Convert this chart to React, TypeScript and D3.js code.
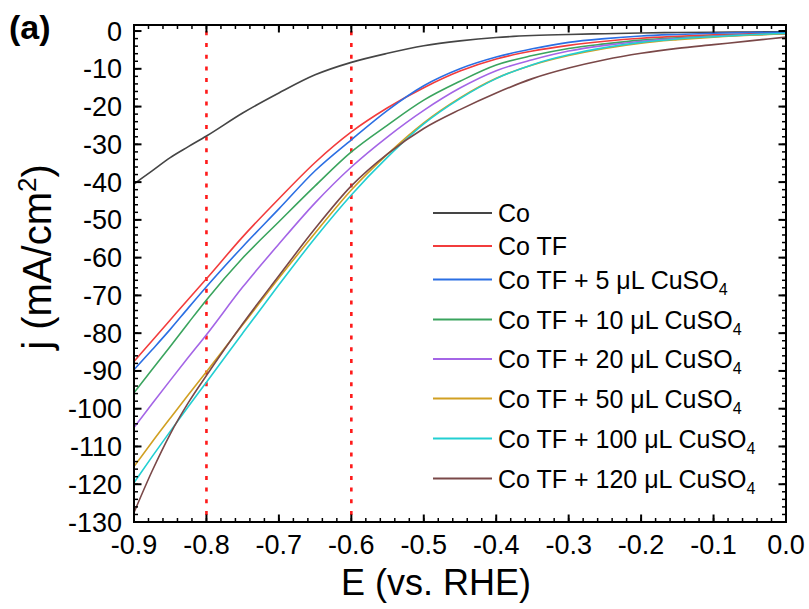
import React from "react";
import * as d3 from "d3";

const E = [-0.9, -0.875, -0.85, -0.825, -0.8, -0.75, -0.7, -0.65, -0.6, -0.55, -0.5, -0.45, -0.4, -0.35, -0.3, -0.25, -0.2, -0.15, -0.1, -0.05, 0];

const jCo = [-40.5, -37.0, -33.5, -30.6, -27.8, -21.7, -16.4, -11.6, -8.3, -5.9, -3.9, -2.6, -1.7, -1.2, -0.9, -0.7, -0.5, -0.4, -0.3, -0.25, -0.2];
const jCoTF = [-87.5, -82.0, -76.5, -71.0, -65.6, -54.5, -44.4, -34.8, -26.7, -20.3, -15.0, -10.6, -7.4, -5.3, -3.8, -2.7, -1.9, -1.4, -1.0, -0.7, -0.5];
const j5 = [-89.7, -84.4, -79.0, -73.3, -67.7, -57.1, -47.1, -37.0, -28.8, -21.0, -14.5, -10.0, -6.9, -4.7, -3.0, -2.0, -1.3, -0.9, -0.6, -0.4, -0.3];
const j10 = [-95.8, -89.6, -83.5, -77.3, -71.2, -60.1, -50.5, -41.0, -32.0, -24.9, -18.3, -13.3, -9.0, -6.5, -4.6, -3.4, -2.4, -1.8, -1.3, -1.0, -0.7];
const j20 = [-105.0, -98.7, -92.5, -86.4, -80.4, -67.8, -56.4, -45.5, -36.0, -28.0, -21.0, -15.1, -10.5, -7.6, -5.3, -3.8, -2.7, -2.0, -1.4, -1.0, -0.7];
const j50 = [-115.3, -108.8, -102.5, -96.3, -90.2, -77.8, -65.4, -53.5, -42.1, -32.6, -24.3, -17.7, -12.5, -9.0, -6.5, -4.6, -3.2, -2.3, -1.6, -1.1, -0.7];
const j100 = [-119.6, -112.7, -106.0, -99.4, -93.0, -80.0, -67.2, -54.8, -43.4, -33.4, -24.6, -17.9, -12.6, -8.9, -6.3, -4.4, -3.0, -2.1, -1.5, -1.0, -0.6];
const j120 = [-127.5, -116.5, -106.7, -98.4, -91.2, -77.5, -64.8, -52.3, -41.0, -32.5, -25.8, -20.8, -16.4, -12.6, -9.8, -7.6, -5.9, -4.6, -3.6, -2.6, -1.6];

const seriesNames = ["Co", "Co TF", "Co TF + 5 μL CuSO", "Co TF + 10 μL CuSO", "Co TF + 20 μL CuSO", "Co TF + 50 μL CuSO", "Co TF + 100 μL CuSO", "Co TF + 120 μL CuSO"];
const seriesSub = ["", "", "4", "4", "4", "4", "4", "4"];
const seriesValues = [jCo, jCoTF, j5, j10, j20, j50, j100, j120];
const seriesColors = ["#454545", "#f23c3c", "#2b6fe3", "#3aa45e", "#a465e6", "#d1a022", "#22cfd2", "#7a4848"];

const xTicks = [-0.9, -0.8, -0.7, -0.6, -0.5, -0.4, -0.3, -0.2, -0.1, 0];
const xTickLabels = ["-0.9", "-0.8", "-0.7", "-0.6", "-0.5", "-0.4", "-0.3", "-0.2", "-0.1", "0.0"];
const yTicks = [0, -10, -20, -30, -40, -50, -60, -70, -80, -90, -100, -110, -120, -130];
const refLines = [-0.8, -0.6];

const W = 809, H = 609;
const L = 134, R = 786, T = 25, B = 522;
const FONT = "'Liberation Sans', Arial, sans-serif";

export default function App() {
  const x = d3.scaleLinear().domain([-0.9, 0]).range([L, R]);
  const y = d3.scaleLinear().domain([-130, 1.6]).range([B, T]);
  const line = d3.line<[number, number]>().x(d => x(d[0])).y(d => y(d[1])).curve(d3.curveMonotoneX);

  const xMinor = d3.range(0, 46).map(i => -0.9 + i * 0.02).filter(v => v <= 0.0001);
  const yMinor = d3.range(0, 66).map(i => -130 + i * 2).filter(v => v <= 1.6);

  const legendRows = [213, 246, 279.5, 319.5, 359, 398.5, 438.5, 478.5];

  return (
    <svg width={W} height={H} style={{ position: "absolute", left: 0, top: 0, background: "#fff" }} fontFamily={FONT}>
      <rect x={0} y={0} width={W} height={H} fill="#fff" />
      <defs>
        <clipPath id="plotClip">
          <rect x={L} y={T} width={R - L} height={B - T} />
        </clipPath>
      </defs>
      {refLines.map(v => (
        <line key={v} x1={x(v)} x2={x(v)} y1={T} y2={B} stroke="#ff1a1a" strokeWidth={2.6} strokeDasharray="4 7.7" strokeDashoffset={5.4} />
      ))}
      <g clipPath="url(#plotClip)">
        {seriesValues.map((vals, i) => (
          <path key={i} d={line(E.map((e, k) => [e, vals[k]] as [number, number])) || ""} fill="none" stroke={seriesColors[i]} strokeWidth={1.6} />
        ))}
      </g>
      {xMinor.map((v, i) => (
        <g key={"xm" + i}>
          <line x1={x(v)} x2={x(v)} y1={B} y2={B - 4} stroke="#000" strokeWidth={1.5} />
          <line x1={x(v)} x2={x(v)} y1={T} y2={T + 4} stroke="#000" strokeWidth={1.5} />
        </g>
      ))}
      {yMinor.map((v, i) => (
        <g key={"ym" + i}>
          <line x1={L} x2={L + 4} y1={y(v)} y2={y(v)} stroke="#000" strokeWidth={1.5} />
          <line x1={R} x2={R - 4} y1={y(v)} y2={y(v)} stroke="#000" strokeWidth={1.5} />
        </g>
      ))}
      {xTicks.map((v, i) => (
        <g key={"xM" + i}>
          <line x1={x(v)} x2={x(v)} y1={B} y2={B - 7.5} stroke="#000" strokeWidth={2} />
          <line x1={x(v)} x2={x(v)} y1={T} y2={T + 7.5} stroke="#000" strokeWidth={2} />
          <text x={x(v)} y={554} textAnchor="middle" fontSize={27} fill="#000">{xTickLabels[i]}</text>
        </g>
      ))}
      {yTicks.map((v, i) => (
        <g key={"yM" + i}>
          <line x1={L} x2={L + 7.5} y1={y(v)} y2={y(v)} stroke="#000" strokeWidth={2} />
          <line x1={R} x2={R - 7.5} y1={y(v)} y2={y(v)} stroke="#000" strokeWidth={2} />
          <text x={122} y={y(v) + 9.5} textAnchor="end" fontSize={27} fill="#000">{String(v)}</text>
        </g>
      ))}
      <rect x={L} y={T} width={R - L} height={B - T} fill="none" stroke="#000" strokeWidth={2} />
      <text x={436} y={595} textAnchor="middle" fontSize={36} fill="#000">E (vs. RHE)</text>
      <text transform={`translate(51, ${257}) rotate(-90)`} textAnchor="middle" fontSize={40} fill="#000">
        j (mA/cm<tspan fontSize={26} dy={-15}>2</tspan><tspan dy={15}>)</tspan>
      </text>
      <text x={9} y={39} fontSize={34} fontWeight="bold" fill="#000">(a)</text>
      {seriesNames.map((name, i) => (
        <g key={"lg" + i}>
          <line x1={433} x2={492} y1={legendRows[i]} y2={legendRows[i]} stroke={seriesColors[i]} strokeWidth={1.8} />
          <text x={498} y={legendRows[i] + 9} fontSize={25} fill="#000">
            {name}
            {seriesSub[i] ? <tspan fontSize={16} dy={6}>{seriesSub[i]}</tspan> : null}
          </text>
        </g>
      ))}
    </svg>
  );
}
